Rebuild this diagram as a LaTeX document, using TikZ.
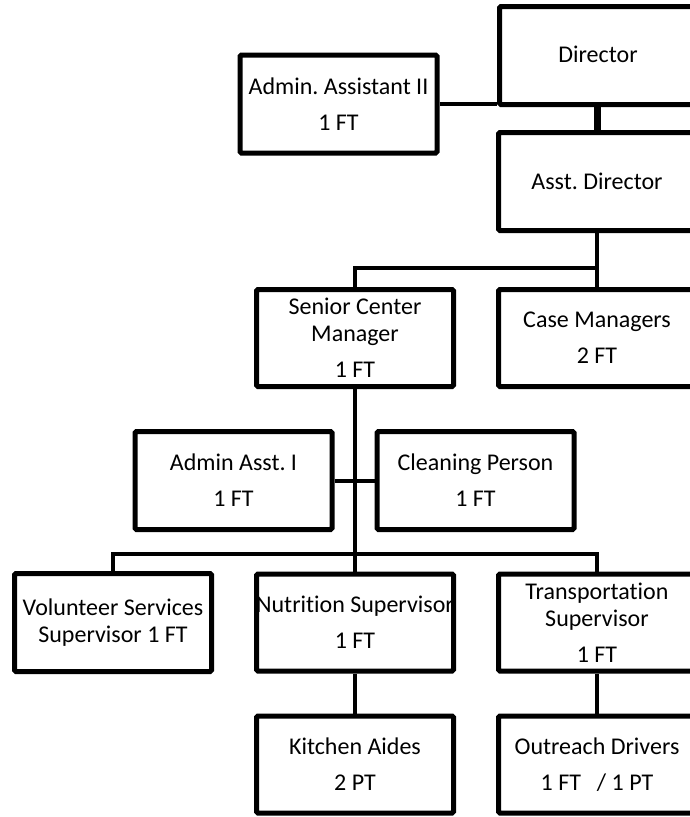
\documentclass[tikz,border=0pt]{standalone}
\usepackage{fontspec}
\setmainfont[Ligatures={NoCommon}]{Carlito}
\frenchspacing
\begin{document}
\begin{tikzpicture}[x=1pt,y=1pt,
  box/.style={draw=black,line width=5pt,rounded corners=1.5pt,minimum width=197pt,minimum height=97pt,
    inner sep=0pt,align=center,font=\fontsize{24}{27}\selectfont},
  conn/.style={draw=black,line width=4pt},
  thickconn/.style={draw=black,line width=7pt}]
\useasboundingbox (0,0) rectangle (690,-817);
\clip (0,0) rectangle (690,-817);
% nodes
\node[box,minimum height=98pt] (dir) at (598,-55.5) {\raisebox{2pt}{Director}};
\node[box,minimum height=98pt] (aa2) at (338.5,-104) {Admin. Assistant II\\[9pt]1 FT};
\node[box,minimum height=98pt] (asst) at (597,-181.5) {Asst. Director};
\node[box] (scm) at (355,-338) {Senior Center\\Manager\\[9pt]1 FT};
\node[box] (cm) at (597,-338) {Case Managers\\[9pt]2 FT};
\node[box,minimum height=98pt] (aa1) at (233.5,-480.5) {Admin Asst. I\\[9pt]1 FT};
\node[box,minimum height=98pt] (clean) at (475.5,-480.5) {Cleaning Person\\[9pt]1 FT};
\node[box,minimum height=98pt] (vol) at (113,-622.5) {Volunteer Services\\Supervisor 1 FT};
\node[box] (nut) at (355,-622.5) {\makebox[190pt]{Nutrition Supervisor}\\[9pt]1 FT};
\node[box] (trans) at (597,-622.5) {Transportation\\Supervisor\\[9pt]1 FT};
\node[box] (kit) at (355,-764.5) {Kitchen Aides\\[9pt]2 PT};
\node[box] (out) at (597,-764.5) {Outreach Drivers\\[9pt]1 FT\hspace{16pt}/ 1 PT};
% junctions
\coordinate (j1) at (597,-267.5);
\coordinate (j2) at (355,-554);
% connectors
\draw[conn] (aa2.east) -- (aa2.east -| dir.west);
\draw[thickconn] (dir.south -| asst.north) -- (asst.north);
\draw[conn] (asst.south) -- (cm.north);
\draw[conn] (j1) -| (scm.north);
\draw[conn] (scm.south) -- (nut.north);
\draw[conn] (aa1.east) -- (clean.west);
\draw[conn] (j2) -| (vol.north);
\draw[conn] (j2) -| (trans.north);
\draw[conn] (nut.south) -- (kit.north);
\draw[conn] (trans.south) -- (out.north);
\end{tikzpicture}
\end{document}
